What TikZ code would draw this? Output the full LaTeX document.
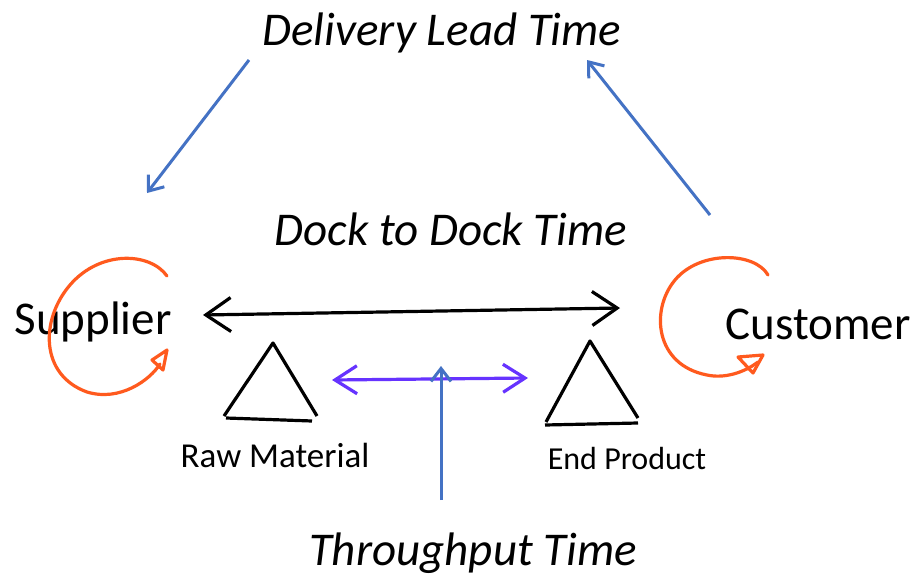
\documentclass[tikz,border=0pt]{standalone}
\usepackage{fontspec}
\setmainfont{Carlito}
\usetikzlibrary{arrows.meta}
\definecolor{bluearr}{HTML}{4472C4}
\definecolor{purplearr}{HTML}{6633FF}
\definecolor{orangeloop}{HTML}{FF5A1E}
\tikzset{
  big/.style={font=\fontsize{47}{50}\selectfont, inner sep=0pt, anchor=base},
  bigit/.style={big, font=\fontsize{47}{50}\selectfont\itshape},
  small/.style={inner sep=0pt, anchor=base},
  bluearrow/.style={draw=bluearr, line width=3pt, -{Straight Barb[length=13pt,width=20pt,line width=3pt]}},
  blackarrow/.style={draw=black, line width=3.2pt, {Straight Barb[length=25pt,width=34pt,line width=3.2pt]}-{Straight Barb[length=25pt,width=34pt,line width=3.2pt]}},
  purplearrow/.style={draw=purplearr, line width=3.2pt, {Straight Barb[length=22pt,width=28pt,line width=3.2pt]}-{Straight Barb[length=22pt,width=28pt,line width=3.2pt]}},
  tri/.style={draw=black, line width=3.2pt, line join=round},
  loop/.style={draw=orangeloop, line width=3.2pt, line cap=round, line join=round},
}
\begin{document}
\begin{tikzpicture}[x=1pt,y=-1pt]
\useasboundingbox[fill=white] (0,0) rectangle (916,576);
% texts
\node[bigit] (dlt) at (442,45) {Delivery Lead Time};
\node[bigit] (ddt) at (451,245) {Dock to Dock Time};
\node[big] (sup) at (93,334) {Supplier};
\node[big] (cus) at (818,339) {Customer};
\node[small, font=\fontsize{35}{37}\selectfont] (raw) at (275,467) {Raw Material};
\node[small, font=\fontsize{32}{34}\selectfont] (end) at (627,469) {End Product};
\node[bigit] (thr) at (473,565) {Throughput Time};
% coordinates
\coordinate (b1s) at (249,60);
\coordinate (b1e) at (147,193);
\coordinate (b2s) at (710,215);
\coordinate (b2e) at (587,60);
\coordinate (kl) at (203,315);
\coordinate (kr) at (620,308);
\coordinate (pl) at (332,380);
\coordinate (pr) at (528,378);
\coordinate (vb) at (441,500);
\coordinate (vt) at (441,366);
% arrows
\draw[bluearrow] (b1s) -- (b1e);
\draw[bluearrow] (b2s) -- (b2e);
\draw[blackarrow] (kl) -- (kr);
\draw[purplearrow] (pl) -- (pr);
\draw[bluearrow] (vb) -- (vt);
% triangles
\draw[tri] (224,416) -- (273,343) -- (317,416);
\draw[tri] (226,418) -- (312,421);
\draw[tri] (546,422) -- (590,341) -- (638,418);
\draw[tri] (545,425) -- (638,423);
% supplier loop
\draw[loop] (167,276) .. controls (150,252) and (100,250) .. (70,285)
  .. controls (40,320) and (40,375) .. (87,392)
  .. controls (120,402) and (150,380) .. (160,364);
\draw[loop] (167,350) -- (152,360) -- (163,370) -- cycle;
% customer loop
\draw[loop] (768,275) .. controls (755,252) and (700,250) .. (675,280)
  .. controls (650,310) and (655,365) .. (707,375)
  .. controls (725,379) and (745,372) .. (758,362);
\draw[loop] (738,357) -- (763,355) -- (753,373) -- cycle;
\end{tikzpicture}
\end{document}
